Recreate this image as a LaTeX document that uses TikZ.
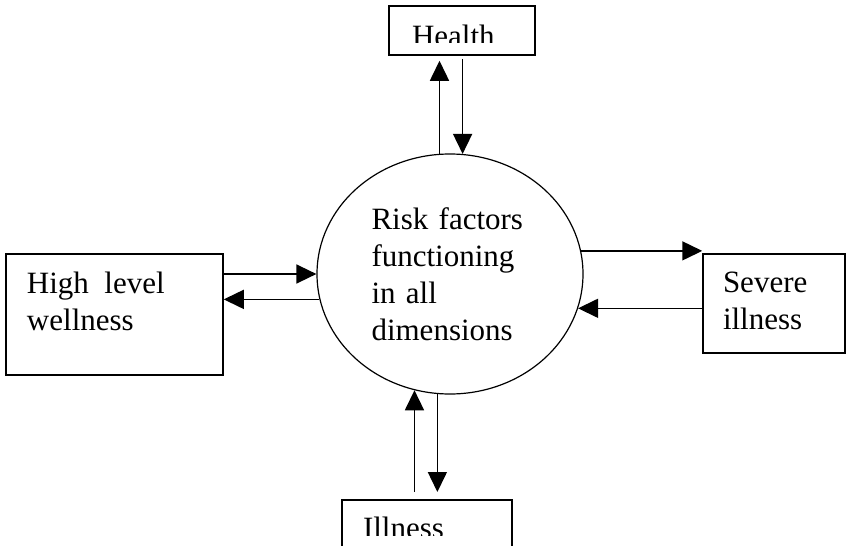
\documentclass[tikz,border=0pt]{standalone}
\usepackage{fontspec}
\setmainfont{Liberation Serif}
\usetikzlibrary{arrows.meta,shapes.geometric,positioning}

\begin{document}
\begin{tikzpicture}[x=1pt,y=-1pt,>={Triangle[length=20pt,width=19pt]},line width=1.5pt,
  box/.style={draw,rectangle,inner sep=0pt},
  txt/.style={font=\fontsize{31}{37}\selectfont,align=left,inner sep=0pt},
  flow/.style={->}]
\useasboundingbox (0,0) rectangle (847,546);

% centre ellipse
\node[draw,ellipse,line width=1.2pt,minimum width=266pt,minimum height=240pt,inner sep=0pt,
      txt,text width=157pt] (risk) at (450,274) {Risk factors\\functioning\\in all\\dimensions};

% boxes
\node[box,minimum width=146pt,minimum height=49pt]  (health)   at (462,30.5) {};
\node[box,minimum width=217pt,minimum height=121pt] (wellness) at (114.5,314.5) {};
\node[box,minimum width=142pt,minimum height=99pt]  (severe)   at (774,303.5) {};
\node[box,minimum width=170pt,minimum height=80pt,anchor=north] (illness) at (427,499) {};

% labels
\node[txt,below right=18pt and 21pt of wellness.north west] (wellnessText) {High\ \ level\\wellness};
\node[txt,below right=18pt and 20pt of severe.north west] (severeText) {Severe\\illness};
\begin{scope}
  \clip (health.north west) rectangle ([yshift=-37pt]health.north east);
  \node[txt,below right=18.5pt and 23pt of health.north west] (healthText) {Health};
\end{scope}
\begin{scope}
  \clip (illness.north west) rectangle ([yshift=-36pt]illness.north east);
  \node[txt,below right=17.5pt and 21pt of illness.north west] (illnessText) {Illness};
\end{scope}

% arrows
\draw[flow,shorten >=5pt] (risk.95) -- (risk.95 |- health.south);
\draw[flow,shorten <=3pt] (health.south -| risk.84) -- (risk.84);
\draw[flow] (wellness.east |- risk.180) -- (risk.180);
\draw[flow] (risk.191) -- (risk.191 -| wellness.east);
\draw[flow] (risk.10) -- (risk.10 -| severe.west);
\draw[flow] (severe.west |- risk.-15) -- (risk.-15);
\draw[flow,shorten <=7pt] (illness.north -| risk.253) -- (risk.253);
\draw[flow,shorten >=7pt] (risk.264) -- (risk.264 |- illness.north);
\end{tikzpicture}
\end{document}
